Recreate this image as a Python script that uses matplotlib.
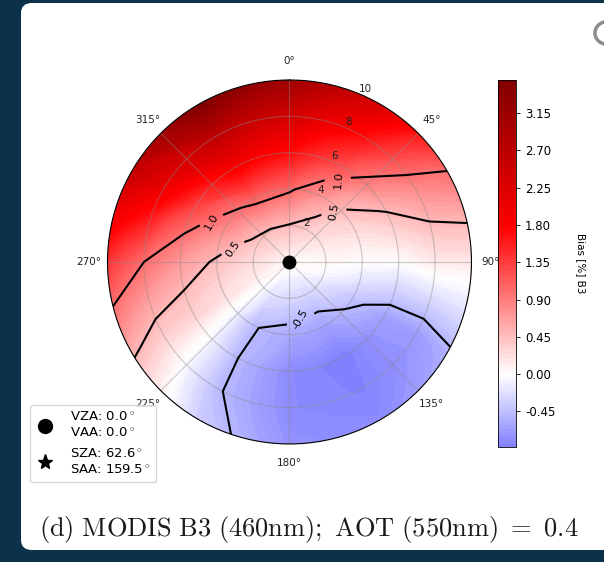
import matplotlib
matplotlib.use('Agg')
import matplotlib.pyplot as plt
import numpy as np
from matplotlib.colors import Normalize
from matplotlib.lines import Line2D
from matplotlib.patches import Circle, FancyBboxPatch

plt.rcParams['mathtext.fontset'] = 'cm'

# grid: view azimuth (deg) x view zenith rings
azimuths = [0, 30, 60, 90, 120, 150, 180, 210, 240, 270, 300, 330]
zeniths = [0, 2, 4, 6, 8, 10]

bias_r0 = [0.05, 0.05, 0.05, 0.05, 0.05, 0.05, 0.05, 0.05, 0.05, 0.05, 0.05, 0.05]
bias_r2 = [0.48, 0.35, 0.18, 0.05, -0.15, -0.30, -0.28, -0.20, 0.10, 0.25, 0.40, 0.47]
bias_r4 = [1.05, 0.70, 0.30, 0.00, -0.42, -0.65, -0.60, -0.48, 0.20, 0.45, 0.85, 1.10]
bias_r6 = [1.70, 1.20, 0.55, 0.00, -0.65, -0.88, -0.80, -0.48, 0.30, 0.70, 1.30, 1.90]
bias_r8 = [2.40, 1.70, 0.80, 0.15, -0.70, -0.85, -0.80, -0.47, 0.35, 1.00, 2.00, 2.70]
bias_r10 = [3.10, 2.30, 1.00, 0.15, -0.55, -0.80, -0.75, -0.35, 0.55, 1.40, 2.60, 3.55]

contour_levels = [-1.0, -0.5, 0.5, 1.0]
cbar_ticks = [-0.45, 0.00, 0.45, 0.90, 1.35, 1.80, 2.25, 2.70, 3.15]

vza, vaa = 0.0, 0.0
sza, saa = 62.6, 159.5

caption = r'$\mathrm{(d)\ MODIS\ B3\ (460nm);\ AOT\ (550nm)\ =\ 0.4}$'


def smooth_polar(paths, steps=40):
    # let the polar transform bend straight (theta, r) segments into arcs
    for p in paths:
        p._interpolation_steps = steps


# the inverse polar transform returns azimuths in (-270, 90], so lay the grid
# out over that range or the inline label cuts land in the wrong place
rings = np.array([bias_r0, bias_r2, bias_r4, bias_r6, bias_r8, bias_r10])
az_wrapped = (np.array(azimuths) + 270) % 360 - 270
order = np.argsort(az_wrapped)
Z = rings[:, order]
Z = np.column_stack([Z, Z[:, 0]])
theta = np.deg2rad(np.append(az_wrapped[order], 90))
T, R = np.meshgrid(theta, zeniths)

vlim = np.abs(Z).max()
norm = Normalize(-vlim, vlim)

fig = plt.figure(figsize=(6.04, 5.62), dpi=100)
fig.patch.set_facecolor('#0c3249')
panel = FancyBboxPatch((21 / 604, 12 / 562), 600 / 604, 547 / 562,
                       boxstyle='round,pad=0,rounding_size=0.018',
                       transform=fig.transFigure, facecolor='white',
                       edgecolor='none', zorder=-10)
fig.patches.append(panel)
fig.patches.append(Circle((607 / 604, 529 / 562), 0.02, transform=fig.transFigure,
                          facecolor='white', edgecolor='#8c8c8c', linewidth=2.5,
                          zorder=-5))

ax = fig.add_axes([0.178, 0.21, 0.6026, 0.6477], projection='polar')
ax.set_theta_zero_location('N')
ax.set_theta_direction(-1)

cf = ax.contourf(T, R, Z, levels=np.linspace(Z.min(), Z.max(), 120),
                 cmap='seismic', norm=norm)
smooth_polar(cf.get_paths())

cs = ax.contour(T, R, Z, levels=contour_levels, colors='k', linewidths=1.5,
                linestyles='solid')
label_spots = [(-61, 4.99), (-75.4, 3.27), (29.4, 5.42), (41.7, 3.68), (-190, 2.96)]
label_rot = [60, 55, 85, 80, 60]
ax.clabel(cs, fmt='%1.1f', fontsize=8, inline=True, inline_spacing=4,
          manual=[(np.deg2rad(a), r) for a, r in label_spots])
for txt, rot in zip(cs.labelTexts, label_rot):
    txt.set_rotation(rot)

ax.plot(np.deg2rad(vaa), vza, 'o', color='k', ms=9, zorder=5)
ax.plot(np.deg2rad(saa), sza, '*', color='k', ms=10, zorder=5)

ax.set_rlim(0, 10)
ax.set_rticks([2, 4, 6, 8, 10])
ax.set_rlabel_position(22.5)
ax.set_thetagrids(np.arange(0, 360, 45), [f'{a}°' for a in range(0, 360, 45)])
ax.tick_params(axis='x', labelsize=7.5, pad=3, colors='#222222')
ax.tick_params(axis='y', labelsize=7.5, colors='#222222')
ax.grid(color='#8a8a8a', alpha=0.45, linewidth=0.8)
ax.spines['polar'].set_linewidth(0.8)

cax = fig.add_axes([0.8245, 0.2046, 0.0298, 0.653])
cb = fig.colorbar(cf, cax=cax, ticks=cbar_ticks, format='%.2f')
cb.ax.tick_params(labelsize=8.5, length=3, width=0.6)
cb.outline.set_linewidth(0.6)
cb.set_label('Bias [%] B3', rotation=270, fontsize=7.5, labelpad=22)

handles = [Line2D([], [], marker='o', color='k', ls='', ms=10),
           Line2D([], [], marker='*', color='k', ls='', ms=11)]
labels = [f'VZA: {vza:.1f}$^\\circ$\nVAA: {vaa:.1f}$^\\circ$',
          f'SZA: {sza:.1f}$^\\circ$\nSAA: {saa:.1f}$^\\circ$']
fig.legend(handles, labels, loc='lower left', bbox_to_anchor=(0.0497, 0.142),
           borderaxespad=0, fontsize=9.5, handletextpad=1.1, handlelength=1.5)

fig.text(0.511, 0.058, caption, ha='center', va='center', fontsize=19, color='#1a1a1a')

fig.savefig('out.png', dpi=100, facecolor=fig.get_facecolor())
